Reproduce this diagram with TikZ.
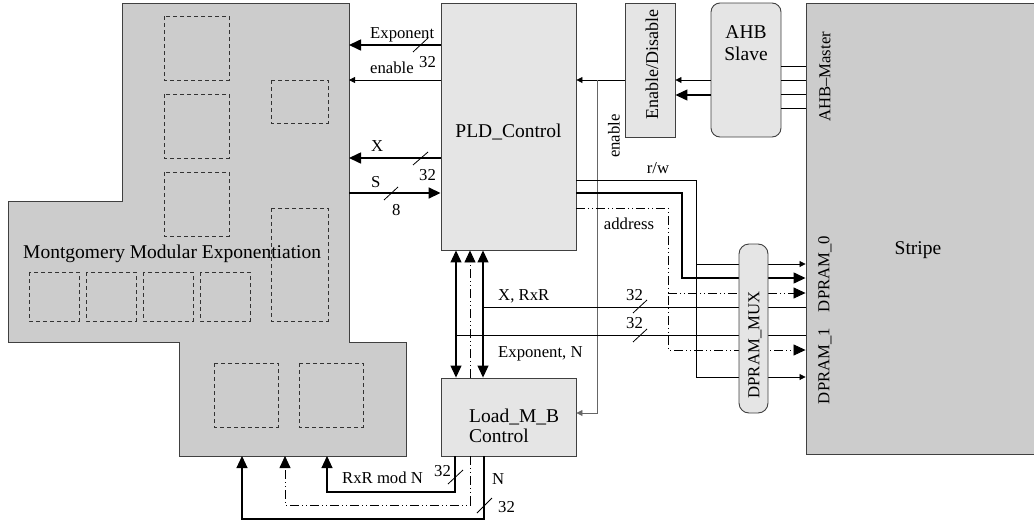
\documentclass[tikz,border=0pt]{standalone}
\usepackage{fontspec}
\setmainfont{Liberation Serif}
\usetikzlibrary{arrows.meta}
\begin{document}
\begin{tikzpicture}[x=1pt,y=-1pt,
  box/.style={draw=black!75,line width=0.9pt,fill=black!10,inner sep=0pt},
  dbox/.style={draw=black!80,line width=0.8pt,dash pattern=on 4pt off 3pt},
  main/.style={font=\fontsize{19.5}{22}\selectfont},
  small/.style={font=\fontsize{16.7}{19}\selectfont},
  lbl/.style={small,inner sep=0pt,anchor=base west},
  sig/.style={line width=0.8pt},
  bus/.style={line width=1.6pt},
  vline/.style={line width=1.1pt},
  dd/.style={line width=0.8pt,dash pattern=on 9pt off 3pt on 1pt off 3pt on 1pt off 3pt},
  big/.style={-{Triangle[length=12pt,width=11pt]}},
  bigb/.style={{Triangle[length=12pt,width=11pt]}-{Triangle[length=12pt,width=11pt]}},
  sml/.style={-{Triangle[length=6pt,width=6pt]}},
  slash/.style={line width=0.8pt}
]
\useasboundingbox (0,0) rectangle (1034,525);

% Montgomery block
\draw[box,fill=black!20] (122,3) -- (349,3) -- (349,342) -- (406,342) -- (406,456) -- (179,456) -- (179,342) -- (8,342) -- (8,201) -- (122,201) -- cycle;
\coordinate (mr) at (349,0);
\coordinate (mb) at (0,456);
\draw[dbox] (164,16) rectangle (229,80);
\draw[dbox] (164,94) rectangle (229,158);
\draw[dbox] (164,172) rectangle (229,236);
\draw[dbox] (271,80) rectangle (328,123);
\draw[dbox] (271,208) rectangle (328,321);
\draw[dbox] (29,272) rectangle (79,321);
\draw[dbox] (86,272) rectangle (136,321);
\draw[dbox] (143,272) rectangle (193,321);
\draw[dbox] (200,272) rectangle (250,321);
\draw[dbox] (214,363) rectangle (278,427);
\draw[dbox] (299,363) rectangle (363,427);
\node[main,inner sep=0pt,anchor=base west] (mtext) at (23,258) {Montgomery Modular Exponentiation};

% Boxes
\node[box,minimum width=135pt,minimum height=247pt] (pld) at (508.5,126.5) {};
\node[main] (pldt) at (508.5,132) {PLD\_Control};
\node[box,minimum width=50pt,minimum height=134pt] (en) at (650,70) {};
\node[font=\fontsize{18}{20}\selectfont,rotate=90] (ent) at (652,65) {Enable/Disable};
\node[box,rounded corners=9pt,minimum width=70pt,minimum height=134pt] (ahb) at (746,70) {};
\node[main,align=center] (ahbt) at (746,43) {AHB\\Slave};
\node[box,fill=black!20,minimum width=228pt,minimum height=451pt] (stripe) at (920,228.5) {};
\node[main] (stript) at (918,250) {Stripe};
\node[small,rotate=90] (am) at (825,77) {AHB--Master};
\node[small,rotate=90] (d0) at (825,274) {DPRAM\_0};
\node[small,rotate=90] (d1) at (825,366) {DPRAM\_1};
\node[box,minimum width=135pt,minimum height=78pt] (load) at (508.5,417) {};
\node[main,inner sep=0pt,anchor=base west] (lt1) at (469,422) {Load\_M\_B};
\node[main,inner sep=0pt,anchor=base west] (lt2) at (469,442) {Control};

% PLD <-> Montgomery
\draw[bus,big] (pld.west |- 0,45) -- (mr |- 0,45);
\draw[slash] (413,52) -- (428,38);
\node[lbl] (l1) at (370,38) {Exponent};
\node[lbl] (l2) at (419,67) {32};
\draw[sig,sml] (pld.west |- 0,80) -- (mr |- 0,80);
\node[lbl] (l3) at (370,73) {enable};
\draw[bus,big] (pld.west |- 0,158) -- (mr |- 0,158);
\draw[slash] (413,165) -- (428,152);
\node[lbl] (l4) at (371,151) {X};
\node[lbl] (l5) at (419,180) {32};
\draw[bus,big] (mr |- 0,193) -- (pld.west |- 0,193);
\draw[slash] (384,200) -- (398,187);
\node[lbl] (l6) at (371,187) {S};
\node[lbl] (l7) at (392,215) {8};

% AHB / Enable
\draw[sig,sml] (en.west |- 0,80) -- (pld.east |- 0,80);
\draw[sig,sml] (ahb.west |- 0,80) -- (en.east |- 0,80);
\draw[line width=1.2pt,big] (ahb.west |- 0,95) -- (en.east |- 0,95);
\foreach \yy in {66,80,94,108} {\draw[sig] (ahb.east |- 0,\yy) -- (stripe.west |- 0,\yy);}
\coordinate (ej) at (597,80);
\draw[sig,draw=black!60,sml] (ej) -- (597,413) -- (load.east |- 0,413);
\node[small,rotate=90] (l8) at (614,136) {enable};

% PLD -> Stripe
\draw[sig,sml] (pld.east |- 0,180) -- (696,180) -- (696,377) -- (stripe.west |- 0,377);
\draw[sig,sml] (696,264) -- (stripe.west |- 0,264);
\node[small] (l9) at (658,168) {r/w};
\draw[line width=1.4pt,big] (pld.east |- 0,193) -- (682,193) -- (682,278) -- (stripe.west |- 0,278);
\draw[dd,big] (pld.east |- 0,208) -- (668,208) -- (668,350) -- (stripe.west |- 0,350);
\draw[dd,big] (668,293) -- (stripe.west |- 0,293);
\node[small] (l10) at (629,224) {address};

% PLD <-> Load
\draw[vline,bigb] (pld.south -| 456,0) -- (load.north -| 456,0);
\draw[dd,big] (load.north -| 470,0) -- (pld.south -| 470,0);
\draw[vline,bigb] (pld.south -| 483,0) -- (load.north -| 483,0);
\draw[sig] (483,307) -- (stripe.west |- 0,307);
\draw[sig] (456,335) -- (stripe.west |- 0,335);
\draw[slash] (633,313) -- (647,300);
\draw[slash] (633,342) -- (647,329);
\node[lbl] (l11) at (626,300) {32};
\node[lbl] (l12) at (626,328) {32};
\node[lbl] (l13) at (498,300) {X, RxR};
\node[lbl] (l14) at (498,357) {Exponent, N};

% Load -> Montgomery
\draw[line width=1.1pt,big] (load.south -| 455,0) -- (455,492) -- (327,492) -- (mb -| 327,0);
\draw[dd,big] (load.south -| 470,0) -- (470,505) -- (285,505) -- (mb -| 285,0);
\draw[line width=1.1pt,big] (load.south -| 484,0) -- (484,519) -- (242,519) -- (mb -| 242,0);
\draw[slash] (448,484) -- (463,470);
\draw[slash] (477,513) -- (492,498);
\node[lbl] (l15) at (342,483) {RxR mod N};
\node[lbl] (l16) at (434,476) {32};
\node[lbl] (l17) at (492,484) {N};
\node[lbl] (l18) at (498,512) {32};

% MUX on top
\node[box,rounded corners=10pt,minimum width=29pt,minimum height=169pt] (mux) at (753.5,328.5) {};
\node[small,rotate=90] (muxt) at (755,345) {DPRAM\_MUX};
\end{tikzpicture}
\end{document}
